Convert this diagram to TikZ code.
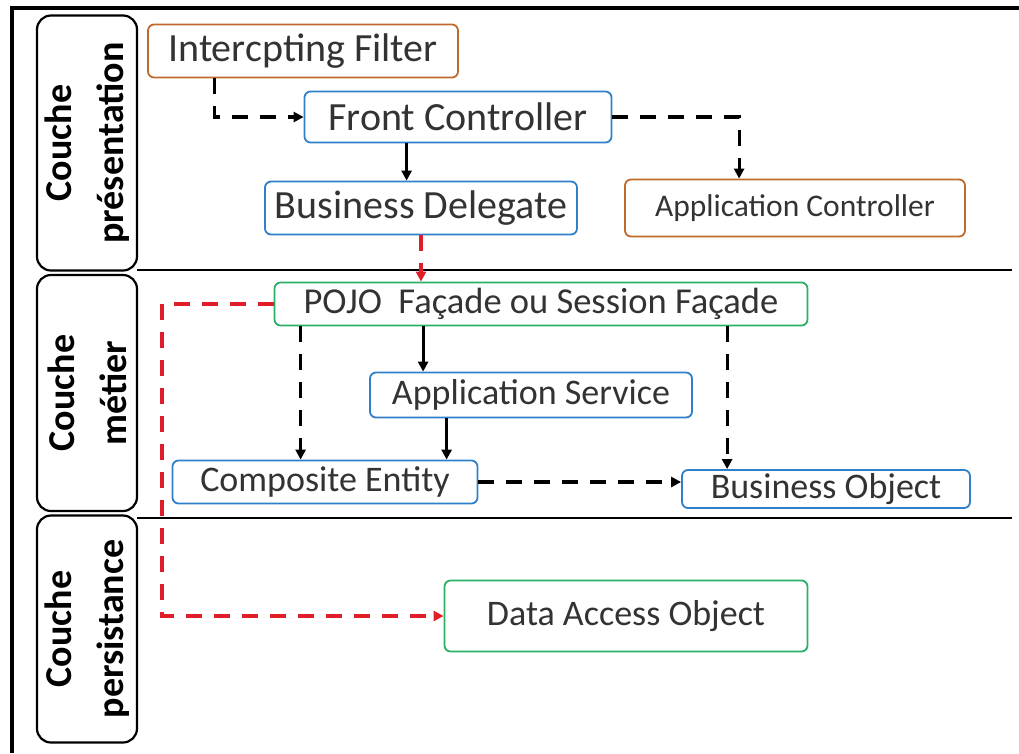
\documentclass[tikz,border=0pt]{standalone}
\usepackage{fontspec}
\setmainfont{Carlito}
\usetikzlibrary{arrows.meta}

\definecolor{patorange}{HTML}{C0692E}
\definecolor{patblue}{HTML}{2F80C8}
\definecolor{patgreen}{HTML}{27B066}
\definecolor{patred}{HTML}{E01E2A}
\definecolor{pattext}{HTML}{333333}

\begin{document}
\begin{tikzpicture}[
    x=1pt, y=-1pt,
    pattern/.style={draw, rounded corners=6pt, line width=1.8pt, inner sep=0pt,
        fill=white, text=pattext, font=\fontsize{40}{44}\selectfont},
    orangebox/.style={pattern, draw=patorange},
    bluebox/.style={pattern, draw=patblue},
    greenbox/.style={pattern, draw=patgreen},
    layer/.style={draw, rounded corners=14pt, line width=2.2pt, rotate=90,
        minimum height=100pt, inner sep=0pt, align=center,
        font=\fontsize{38}{52}\selectfont\bfseries},
    link/.style={line width=3.2pt, -{Triangle[length=10pt,width=10pt]}},
    dashlink/.style={link, dash pattern=on 16pt off 12pt},
    redlink/.style={dashlink, draw=patred}
]
\useasboundingbox (0,0) rectangle (1019,753);

% frame and layer separators
\draw[line width=4pt] (12,753) -- (12,8) -- (1019,8);
\draw[line width=2.5pt] (137,270) -- (1012,270);
\draw[line width=2.5pt] (137,518) -- (1012,518);

% layers
\node[layer, minimum width=255pt] (pres) at (87,143) {Couche\\présentation};
\node[layer, minimum width=236pt] (metier) at (87,393) {Couche\\métier};
\node[layer, minimum width=227pt] (persist) at (87,629) {Couche\\persistance};

% presentation
\node[orangebox, minimum width=310pt, minimum height=53pt] (filter) at (303,51) {Intercpting Filter};
\node[bluebox, minimum width=307pt, minimum height=51pt] (front) at (458,117) {Front Controller};
\node[bluebox, minimum width=312pt, minimum height=53pt] (delegate) at (421,208) {Business Delegate};
\node[orangebox, minimum width=340pt, minimum height=57pt,
    font=\fontsize{31.5}{36}\selectfont] (appctrl) at (795,208) {Application Controller};

% business
\node[greenbox, minimum width=533pt, minimum height=43pt,
    font=\fontsize{36.5}{40}\selectfont] (facade) at (541,304) {POJO\ \ Façade ou Session Façade};
\node[bluebox, minimum width=322pt, minimum height=45pt,
    font=\fontsize{36}{40}\selectfont] (appsvc) at (531,395) {Application Service};
\node[bluebox, minimum width=305pt, minimum height=43pt,
    font=\fontsize{36}{40}\selectfont] (composite) at (325,482) {Composite Entity};
\node[bluebox, minimum width=288pt, minimum height=38pt,
    font=\fontsize{36}{40}\selectfont] (bizobj) at (826,489) {Business Object};

% persistence
\node[greenbox, minimum width=363pt, minimum height=71pt,
    font=\fontsize{36}{40}\selectfont] (dao) at (626,616) {Data Access Object};
\coordinate (daorail) at (162,0);

% links
\draw[dashlink] ([xshift=67pt]filter.south west) |- (front.west);
\draw[dashlink] (front.east) -| ([xshift=115pt]appctrl.north west);
\draw[link] ([xshift=103pt]front.south west) -- ([xshift=103pt]front.south west |- delegate.north);
\draw[redlink] (delegate.south) -- (delegate.south |- facade.north);
\draw[link] ([xshift=54pt]appsvc.north west |- facade.south) -- ([xshift=54pt]appsvc.north west);
\draw[dashlink] ([xshift=129pt]composite.north west |- facade.south) -- ([xshift=129pt]composite.north west);
\draw[link] ([xshift=275pt]composite.north west |- appsvc.south) -- ([xshift=275pt]composite.north west);
\draw[dashlink] ([xshift=46pt]bizobj.north west |- facade.south) -- ([xshift=46pt]bizobj.north west);
\draw[dashlink] (composite.east) -- (composite.east -| bizobj.west);
\draw[redlink] (facade.west) -| (daorail |- dao.west) -- (dao.west);

\end{tikzpicture}
\end{document}
